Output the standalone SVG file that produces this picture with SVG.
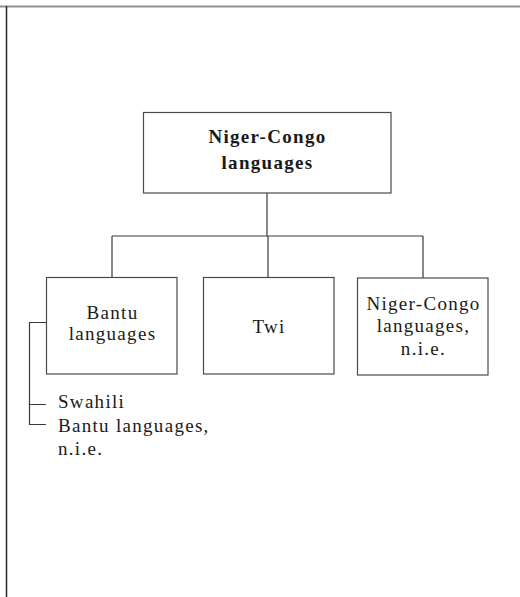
<svg xmlns="http://www.w3.org/2000/svg" width="520" height="597" viewBox="0 0 520 597">
<style>
.box{fill:#fff;stroke:#4a4a4a;stroke-width:1.2}
.t{font-family:"Liberation Serif","Times New Roman",serif;font-size:19px;letter-spacing:1.3px;fill:#1a1a1a}
.b{font-weight:bold}
.c{fill:none;stroke:#3a3a3a;stroke-width:1.2}
</style>
<rect width="520" height="597" fill="#fff"/>
<line x1="0" y1="6.5" x2="520" y2="6.5" stroke="#919191" stroke-width="2"/>
<line x1="6.5" y1="6" x2="6.5" y2="597" stroke="#2a2a22" stroke-width="1.5"/>
<g id="connectors">
<path class="c" d="M267,193 V236 M112,236 H423 M112,236 V277 M268,236 V277 M423,236 V278"/>
<path class="c" d="M46,322.5 H29.5 V424.5 H46 M29.5,404.5 H46"/>
</g>
<g id="niger-congo">
<rect class="box" x="143.5" y="112.5" width="247.5" height="80.5"/>
<text class="t b" x="267.5" y="143" text-anchor="middle">Niger-Congo</text>
<text class="t b" x="267.5" y="169" text-anchor="middle">languages</text>
</g>
<g id="bantu">
<rect class="box" x="46.5" y="277.5" width="130.5" height="96.5"/>
<text class="t" x="112.5" y="319" text-anchor="middle">Bantu</text>
<text class="t" x="112.5" y="340" text-anchor="middle">languages</text>
</g>
<g id="twi">
<rect class="box" x="203.5" y="277.5" width="130.5" height="96.5"/>
<text class="t" x="269" y="333" text-anchor="middle">Twi</text>
</g>
<g id="niger-congo-nie">
<rect class="box" x="357.5" y="278" width="130.5" height="97"/>
<text class="t" x="423.5" y="310" text-anchor="middle">Niger-Congo</text>
<text class="t" x="423.5" y="332" text-anchor="middle">languages,</text>
<text class="t" x="423.5" y="355" text-anchor="middle">n.i.e.</text>
</g>
<g id="bantu-list">
<text class="t" x="58" y="408">Swahili</text>
<text class="t" x="58" y="432">Bantu languages,</text>
<text class="t" x="58" y="455">n.i.e.</text>
</g>
</svg>
